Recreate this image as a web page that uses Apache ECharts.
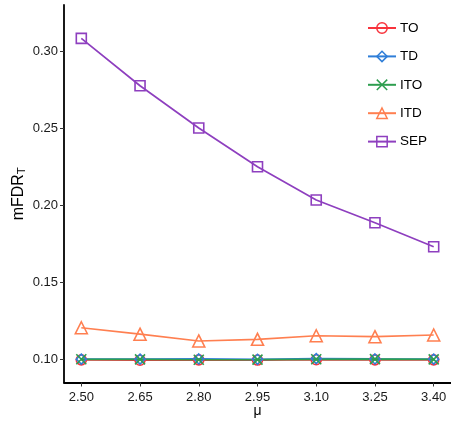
<!DOCTYPE html>
<html>
<head>
<meta charset="utf-8">
<script src="https://cdn.jsdelivr.net/npm/echarts@6/dist/echarts.min.js"></script>
<style>
  html, body { margin: 0; padding: 0; background: #fff; }
  #chart { width: 451px; height: 423px; }
</style>
</head>
<body>
<div id="chart"></div>
<script>
// signal strength values on the x axis
const mu = [2.50, 2.65, 2.80, 2.95, 3.10, 3.25, 3.40];

// mFDR_T for each procedure
const TO  = [0.0996, 0.0994, 0.0996, 0.0995, 0.0997, 0.0996, 0.0996];
const TD  = [0.1001, 0.1001, 0.1002, 0.1000, 0.1004, 0.1002, 0.1001];
const ITO = [0.1000, 0.0999, 0.0997, 0.0998, 0.1000, 0.1001, 0.0999];
const ITD = [0.1205, 0.1163, 0.1119, 0.1130, 0.1153, 0.1147, 0.1158];
const SEP = [0.3087, 0.2779, 0.2504, 0.2252, 0.2036, 0.1888, 0.1732];

// tick labels
const yTicks = [0.10, 0.15, 0.20, 0.25, 0.30];
const xTicks = mu;

const FONT = 'Liberation Sans, Arial, sans-serif';
const crossPath = 'path://M0,0L10,10M10,0L0,10';

const seriesDefs = [
  { name: 'TO',  data: TO,  color: '#F8333C', symbol: 'circle' },
  { name: 'TD',  data: TD,  color: '#2F7ED8', symbol: 'diamond' },
  { name: 'ITO', data: ITO, color: '#2E9E4F', symbol: crossPath },
  { name: 'ITD', data: ITD, color: '#FF7F50', symbol: 'triangle' },
  { name: 'SEP', data: SEP, color: '#8E3FBF', symbol: 'rect' }
];

const chart = echarts.init(document.getElementById('chart'), null, { renderer: 'canvas' });

chart.setOption({
  animation: false,
  backgroundColor: '#ffffff',
  textStyle: { fontFamily: FONT },
  grid: {
    left: 64, right: 0, top: 5, bottom: 40.5,
    containLabel: false,
    outerBoundsMode: 'none'
  },
  legend: {
    orient: 'vertical',
    left: 362,
    top: 16,
    itemWidth: 28,
    itemHeight: 13,
    itemGap: 14.4,
    itemStyle: { borderWidth: 1.5 },
    textStyle: { fontSize: 13.5, color: '#000', fontFamily: FONT, padding: [0, 0, 0, -1] },
    data: seriesDefs.map(s => s.name)
  },
  xAxis: {
    type: 'value',
    min: 2.4558,
    max: 3.4442,
    name: 'μ',
    nameLocation: 'middle',
    nameGap: 22,
    nameMoveOverlap: false,
    nameTextStyle: { fontSize: 14, color: '#000', fontFamily: FONT },
    splitLine: { show: false },
    axisLine: { show: true, onZero: false, lineStyle: { color: '#000', width: 1.8 } },
    axisTick: { show: true, length: 4, customValues: xTicks, lineStyle: { color: '#333', width: 1 } },
    axisLabel: {
      customValues: xTicks,
      margin: 8,
      fontSize: 13,
      color: '#1a1a1a',
      fontFamily: FONT,
      formatter: v => v.toFixed(2)
    }
  },
  yAxis: {
    type: 'value',
    min: 0.0849,
    max: 0.3304,
    name: '{m|mFDR}{s|T}',
    nameLocation: 'middle',
    nameGap: 36,
    nameMoveOverlap: false,
    nameTextStyle: {
      color: '#000',
      fontFamily: FONT,
      rich: {
        m: { fontSize: 16, color: '#000', fontFamily: FONT },
        s: { fontSize: 11.5, color: '#000', fontFamily: FONT, padding: [7, 0, 0, 0] }
      }
    },
    splitLine: { show: false },
    axisLine: { show: true, onZero: false, lineStyle: { color: '#000', width: 1.8 } },
    axisTick: { show: true, length: 4, customValues: yTicks, lineStyle: { color: '#333', width: 1 } },
    axisLabel: {
      customValues: yTicks,
      margin: 6,
      fontSize: 13,
      color: '#1a1a1a',
      fontFamily: FONT,
      formatter: v => v.toFixed(2)
    }
  },
  series: seriesDefs.map(s => ({
    name: s.name,
    type: 'line',
    data: mu.map((x, i) => [x, s.data[i]]),
    symbol: s.symbol,
    symbolSize: s.symbol === 'triangle' ? 12 : 10,
    showAllSymbol: true,
    lineStyle: { color: s.color, width: 1.7 },
    itemStyle: { color: 'rgba(255,255,255,0)', borderColor: s.color, borderWidth: 1.6 },
    emphasis: { disabled: true }
  }))
});
</script>
</body>
</html>
